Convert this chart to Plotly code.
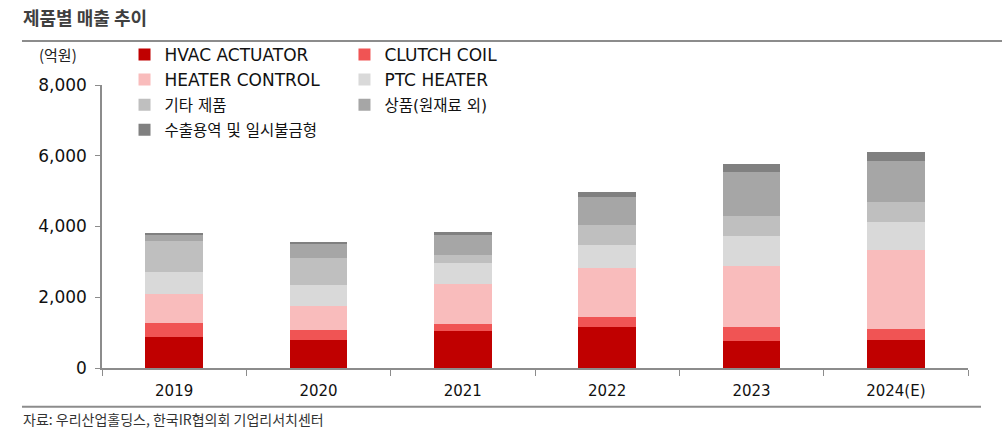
import plotly.graph_objects as go

# 연도별 제품 매출 (억원), 그림에서 읽은 값
years = ["2019", "2020", "2021", "2022", "2023", "2024(E)"]
hvac_actuator = [880, 795, 1050, 1164, 767, 795]
clutch_coil = [388, 275, 199, 274, 387, 303]
heater_control = [823, 680, 1135, 1400, 1722, 2232]
ptc_heater = [633, 596, 586, 634, 860, 784]
etc_products = [880, 766, 227, 576, 558, 577]
goods = [160, 416, 567, 794, 1258, 1173]
export_service = [29, 38, 86, 133, 218, 236]

SERIES = [
    ("HVAC ACTUATOR", hvac_actuator, "#C00000", "legend"),
    ("CLUTCH COIL", clutch_coil, "#F05454", "legend2"),
    ("HEATER CONTROL", heater_control, "#F9BCBC", "legend"),
    ("PTC HEATER", ptc_heater, "#D9D9D9", "legend2"),
    ("기타 제품", etc_products, "#BFBFBF", "legend"),
    ("상품(원재료 외)", goods, "#A6A6A6", "legend2"),
    ("수출용역 및 일시불금형", export_service, "#808080", "legend"),
]

FONT = "DejaVu Sans, Noto Sans CJK KR, sans-serif"
KFONT = "Noto Sans CJK KR, sans-serif"


def label(name):
    # 한글 이름은 조금 작게
    if any("\uac00" <= ch <= "\ud7a3" for ch in name):
        return f"<span style='font-size:15.5px'>{name}</span>"
    return name


fig = go.Figure()
for i, (name, vals, color, lg) in enumerate(SERIES):
    fig.add_trace(go.Bar(
        x=years, y=vals, name=label(name),
        marker=dict(color=color, line=dict(width=0)),
        legend=lg, legendgroup=f"g{i}",
    ))

legend_common = dict(
    orientation="v", traceorder="grouped", tracegroupgap=0,
    font=dict(family=FONT, size=17, color="#111"),
    bgcolor="rgba(0,0,0,0)", itemwidth=30,
    yanchor="top", y=1.17, xanchor="left",
)

fig.update_layout(
    barmode="stack",
    bargap=0.6,
    width=1002, height=441,
    margin=dict(l=102, r=34, t=85, b=73),
    paper_bgcolor="white", plot_bgcolor="white",
    font=dict(family=FONT, size=15, color="#111"),
    showlegend=True,
    legend=dict(legend_common, x=0.026),
    legend2=dict(legend_common, x=0.28),
    xaxis=dict(
        showline=True, linecolor="#8c8c8c", linewidth=1.5,
        ticks="outside", tickson="boundaries", ticklen=6, tickcolor="#8c8c8c",
        tickfont=dict(size=15, color="#111"), ticklabelstandoff=8,
        showgrid=False,
    ),
    yaxis=dict(
        range=[0, 8000], dtick=2000, tickformat=",",
        showline=True, linecolor="#8c8c8c", linewidth=1.5,
        ticks="outside", ticklen=5, tickcolor="#8c8c8c",
        tickfont=dict(size=17, color="#111"), ticklabelstandoff=5,
        showgrid=False, zeroline=False,
    ),
    annotations=[
        dict(text="<b>제품별 매출 추이</b>", xref="paper", yref="paper",
             x=-0.093, y=1.24, xanchor="left", yanchor="middle", showarrow=False,
             font=dict(family=KFONT, size=18, color="#404040")),
        dict(text="(억원)", xref="paper", yref="paper",
             x=-0.075, y=1.109, xanchor="left", yanchor="middle", showarrow=False,
             font=dict(family=KFONT, size=15, color="#222")),
        dict(text="자료: 우리산업홀딩스, 한국IR협의회 기업리서치센터", xref="paper", yref="paper",
             x=-0.094, y=-0.18, xanchor="left", yanchor="middle", showarrow=False,
             font=dict(family=KFONT, size=14, color="#333")),
    ],
    shapes=[
        dict(type="line", xref="paper", yref="paper", x0=-0.0924, x1=1.04,
             y0=1.1555, y1=1.1555, line=dict(color="#8c8c8c", width=2)),
        dict(type="line", xref="paper", yref="paper", x0=-0.0924, x1=1.015,
             y0=-0.137, y1=-0.137, line=dict(color="#8c8c8c", width=2)),
    ],
)

fig.write_html("out.html", config={"displayModeBar": False},
               post_script="document.body.style.margin='0';")
